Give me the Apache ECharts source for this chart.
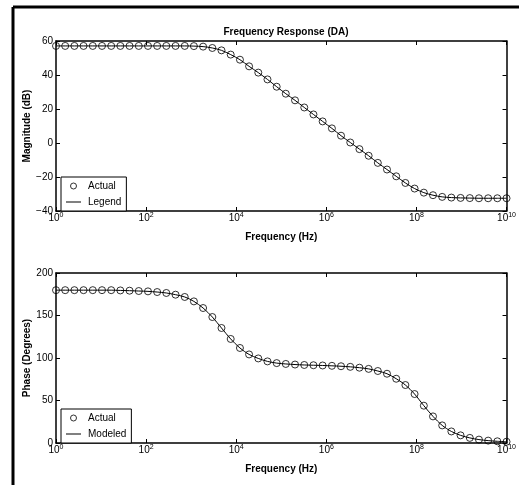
<!DOCTYPE html>
<html>
<head>
<meta charset="utf-8">
<script src="https://cdn.jsdelivr.net/npm/echarts@6/dist/echarts.min.js"></script>
<style>
  html, body { margin: 0; padding: 0; background: #fff; }
  #chart { width: 519px; height: 485px; }
</style>
</head>
<body>
<div id="chart"></div>
<script>
// frequencies (Hz), 50 log spaced points from 1 Hz to 10 GHz
var freqHz = [
  1, 1.6, 2.56, 4.09, 6.55, 10.5, 16.8, 26.8, 42.9, 68.7,
  110, 176, 281, 450, 720, 1.15e3, 1.84e3, 2.95e3, 4.71e3, 7.54e3,
  1.21e4, 1.93e4, 3.09e4, 4.94e4, 7.91e4, 1.26e5, 2.02e5, 3.24e5, 5.18e5, 8.28e5,
  1.33e6, 2.12e6, 3.40e6, 5.43e6, 8.69e6, 1.39e7, 2.22e7, 3.56e7, 5.69e7, 9.10e7,
  1.46e8, 2.33e8, 3.73e8, 5.96e8, 9.54e8, 1.53e9, 2.44e9, 3.91e9, 6.25e9, 1e10
];
var magnitudeDb = [
  57.1, 57.1, 57.1, 57.1, 57.1, 57.1, 57.1, 57.1, 57.1, 57.1,
  57.1, 57.1, 57.1, 57.1, 57.1, 57.0, 56.7, 55.9, 54.5, 52.0,
  49.0, 45.1, 41.4, 37.4, 33.1, 29.0, 25.1, 20.9, 16.8, 12.7,
  8.6, 4.3, 0.3, -3.6, -7.5, -11.7, -15.6, -19.6, -23.5, -26.8,
  -29.2, -30.7, -31.7, -32.1, -32.3, -32.4, -32.5, -32.5, -32.5, -32.5
];
var phaseDeg = [
  179.8, 179.8, 179.8, 179.8, 179.8, 179.8, 179.8, 179.5, 179.2, 178.8,
  178.4, 177.6, 176.5, 174.5, 171.8, 166.6, 158.8, 148.2, 135.3, 122.4,
  111.8, 104.2, 99.5, 96.0, 94.0, 93.0, 92.3, 91.8, 91.5, 91.2,
  90.8, 90.3, 89.6, 88.6, 87.2, 84.7, 81.5, 75.6, 68.2, 57.6,
  43.9, 31.3, 20.7, 13.6, 9.0, 6.0, 4.0, 2.8, 2.0, 1.5
];
var topLegend = ['Actual', 'Legend'];
var bottomLegend = ['Actual', 'Modeled'];

var FONT = '"Liberation Sans", Arial, sans-serif';
var LINE_ICON = 'path://M0,0 L15,0 L15,1 L0,1 Z';

function pairs(ys) {
  return freqHz.map(function (f, i) { return [f, ys[i]]; });
}

function xAxes(grid) {
  var common = {
    gridIndex: grid,
    type: 'log',
    logBase: 10,
    min: 1,
    max: 1e10,
    interval: 2,
    splitLine: { show: false },
    axisLine: { onZero: false, lineStyle: { color: '#000', width: 1.5 } },
    axisTick: { inside: true, length: 4, lineStyle: { color: '#000', width: 1 } }
  };
  var bottom = Object.assign({}, common, {
    position: 'bottom',
    name: 'Frequency (Hz)',
    nameLocation: 'middle',
    nameGap: 21,
    nameMoveOverlap: false,
    nameTextStyle: { fontFamily: FONT, fontSize: 10, fontWeight: 'bold', color: '#000' },
    axisLabel: {
      margin: 1,
      color: '#000',
      formatter: function (v) {
        return '{b|10}{s|' + Math.round(Math.log10(v)) + '}';
      },
      rich: {
        b: { fontFamily: FONT, fontSize: 10, lineHeight: 12, color: '#000' },
        s: { fontFamily: FONT, fontSize: 7, lineHeight: 7, verticalAlign: 'top', color: '#000' }
      }
    }
  });
  var top = Object.assign({}, common, {
    position: 'top',
    axisLabel: { show: false }
  });
  return [bottom, top];
}

function yAxes(grid, name, min, max, step) {
  var common = {
    gridIndex: grid,
    type: 'value',
    min: min,
    max: max,
    interval: step,
    splitLine: { show: false },
    axisLine: { show: true, onZero: false, lineStyle: { color: '#000', width: 1.5 } },
    axisTick: { show: true, inside: true, length: 4, lineStyle: { color: '#000', width: 1 } }
  };
  var left = Object.assign({}, common, {
    position: 'left',
    name: name,
    nameLocation: 'middle',
    nameGap: 24,
    nameMoveOverlap: false,
    nameTextStyle: { fontFamily: FONT, fontSize: 10, fontWeight: 'bold', color: '#000' },
    axisLabel: {
      margin: 3,
      fontFamily: FONT,
      fontSize: 10,
      color: '#000',
      formatter: function (v) { return String(v).replace('-', '\u2212'); }
    }
  });
  var right = Object.assign({}, common, {
    position: 'right',
    axisLabel: { show: false }
  });
  return [left, right];
}

function legendBox(top, names) {
  return {
    data: [
      {
        name: names[0],
        icon: 'circle',
        itemStyle: { color: '#fff', borderColor: '#000', borderWidth: 1 }
      },
      { name: names[1], icon: LINE_ICON, itemStyle: { color: '#000', borderWidth: 0 } }
    ],
    orient: 'vertical',
    left: 61,
    top: top,
    padding: [4, 5, 4, 5],
    itemGap: 6,
    itemWidth: 15,
    itemHeight: 6,
    borderColor: '#000',
    borderWidth: 1,
    borderRadius: 0,
    backgroundColor: '#fff',
    selectedMode: false,
    textStyle: { fontFamily: FONT, fontSize: 10, color: '#000', padding: [0, 0, 0, 2] }
  };
}

function markerSeries(x, y, data) {
  return {
    name: 'Actual',
    type: 'scatter',
    xAxisIndex: x,
    yAxisIndex: y,
    data: data,
    symbol: 'circle',
    symbolSize: 7,
    z: 3,
    itemStyle: { color: 'rgba(0,0,0,0)', borderColor: '#000', borderWidth: 1 }
  };
}

function lineSeries(name, x, y, data) {
  return {
    name: name,
    type: 'line',
    xAxisIndex: x,
    yAxisIndex: y,
    data: data,
    symbol: 'none',
    smooth: 0.3,
    z: 2,
    lineStyle: { color: '#000', width: 1 },
    itemStyle: { color: '#000' }
  };
}

var chart = echarts.init(document.getElementById('chart'), null, { renderer: 'canvas' });

chart.setOption({
  backgroundColor: '#fff',
  animation: false,
  title: {
    text: 'Frequency Response (DA)',
    left: 281,
    top: 22,
    textAlign: 'center',
    textStyle: { fontFamily: FONT, fontSize: 10, fontWeight: 'bold', color: '#000' }
  },
  graphic: [
    { type: 'line', shape: { x1: 13, y1: 7, x2: 519, y2: 7 }, style: { stroke: '#000', lineWidth: 3 } },
    { type: 'line', shape: { x1: 13, y1: 7, x2: 13, y2: 485 }, style: { stroke: '#000', lineWidth: 3 } }
  ],
  grid: [
    { left: 56, top: 41, width: 451, height: 170 },
    { left: 56, top: 273, width: 451, height: 170 }
  ],
  xAxis: xAxes(0).concat(xAxes(1)),
  yAxis: yAxes(0, 'Magnitude (dB)', -40, 60, 20).concat(yAxes(1, 'Phase (Degrees)', 0, 200, 50)),
  legend: [legendBox(177, topLegend), legendBox(409, bottomLegend)],
  series: [
    lineSeries('Legend', 0, 0, pairs(magnitudeDb)),
    markerSeries(0, 0, pairs(magnitudeDb)),
    lineSeries('Modeled', 2, 2, pairs(phaseDeg)),
    markerSeries(2, 2, pairs(phaseDeg))
  ]
});
</script>
</body>
</html>
